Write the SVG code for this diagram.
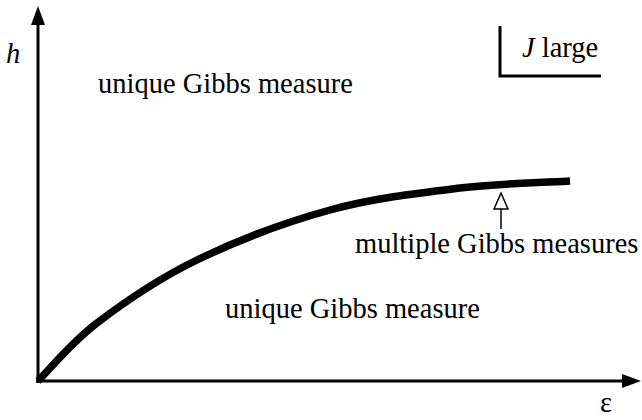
<svg xmlns="http://www.w3.org/2000/svg" width="642" height="420" viewBox="0 0 642 420">
<style>
.t{font-family:"Liberation Serif","Times New Roman",serif;font-size:28.5px;fill:#000}
.i{font-style:italic}
.ax{stroke:#000;stroke-width:3;fill:none}
</style>
<rect width="642" height="420" fill="#fff"/>
<g id="axes">
<line class="ax" x1="38" y1="383" x2="38" y2="22"/>
<polygon points="38,6 31,25 45,25" fill="#000"/>
<line class="ax" x1="36" y1="381" x2="624" y2="381"/>
<polygon points="641,381 622,374 622,388" fill="#000"/>
<text class="t i" x="6" y="63">h</text>
<text class="t" x="600" y="412" font-size="24">ε</text>
</g>
<g id="curve">
<path d="M38,381 C47.8,371.3 70.5,343.2 97,323 C123.5,302.8 158.2,278.8 197,260 C235.8,241.2 286.2,222 330,210 C373.8,198 420,192.8 460,188 C500,183.2 551.7,182.2 570,181" fill="none" stroke="#000" stroke-width="7.5"/>
</g>
<g id="legend">
<polyline class="ax" points="500,26 500,76 601,76" stroke-width="2.5"/>
<text class="t" x="522" y="57"><tspan class="i">J</tspan> large</text>
</g>
<g id="upper-region">
<text class="t" x="98" y="93">unique Gibbs measure</text>
</g>
<g id="lower-region">
<text class="t" x="225" y="318">unique Gibbs measure</text>
</g>
<g id="connectors">
<line x1="501" y1="208" x2="501" y2="229" stroke="#000" stroke-width="1.5"/>
<polygon points="501,193 494,209 508,209" fill="#fff" stroke="#000" stroke-width="1.5"/>
</g>
<g id="boundary-label">
<text class="t" x="355" y="253">multiple Gibbs measures</text>
</g>
</svg>
